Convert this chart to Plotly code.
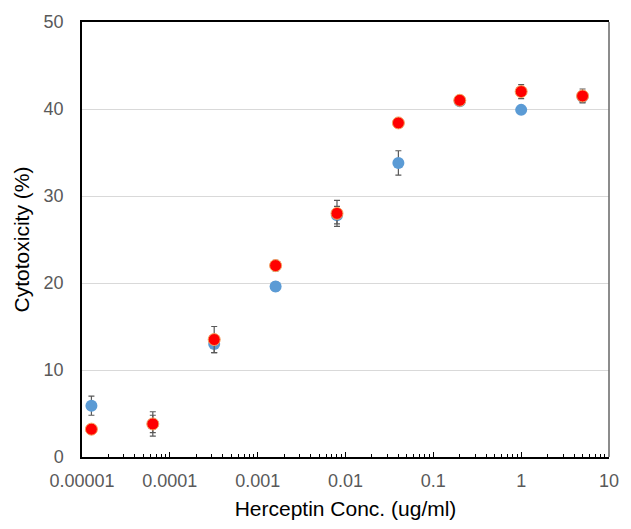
import plotly.graph_objects as go

conc = [0.0000128, 0.000064, 0.00032, 0.0016, 0.008, 0.04, 0.2, 1, 5]
blue_vals = [5.9, 3.8, 13.0, 19.6, 27.8, 33.8, 40.9, 39.9, 41.4]
blue_err = [1.1, 1.0, 1.0, 0.5, 1.0, 1.4, 0.3, 0.4, 0.6]
red_vals = [3.2, 3.8, 13.5, 22.0, 28.0, 38.4, 41.0, 42.0, 41.5]
red_err = [0.2, 1.4, 1.5, 0.6, 1.5, 0.3, 0.3, 0.8, 0.8]
tick_vals = [0.00001, 0.0001, 0.001, 0.01, 0.1, 1, 10]
tick_text = ["0.00001", "0.0001", "0.001", "0.01", "0.1", "1", "10"]

fig = go.Figure()
fig.add_trace(go.Scatter(
    x=conc, y=blue_vals, mode="markers", name="Series 1",
    marker=dict(size=12, color="#5B9BD5", line=dict(width=0)),
    error_y=dict(type="data", array=blue_err, color="#595959", thickness=1.2, width=3),
))
fig.add_trace(go.Scatter(
    x=conc, y=red_vals, mode="markers", name="Series 2",
    marker=dict(size=12, color="#FF0000", line=dict(width=1, color="#F4A460")),
    error_y=dict(type="data", array=red_err, color="#595959", thickness=1.2, width=3),
))

fig.update_layout(
    width=631, height=529,
    margin=dict(l=82, r=12, t=19, b=70),
    paper_bgcolor="white", plot_bgcolor="white",
    showlegend=False,
    font=dict(family="Liberation Sans, Arial, sans-serif", color="#595959", size=18),
    xaxis=dict(
        type="log", range=[-5, 1],
        tickvals=tick_vals, ticktext=tick_text,
        ticks="inside", ticklen=5, tickcolor="black", tickwidth=1,
        minor=dict(ticks="inside", ticklen=3, tickcolor="black", dtick="D1", showgrid=False),
        showline=True, linecolor="black", linewidth=1.5, mirror=True,
        showgrid=False, zeroline=False,
        ticklabelstandoff=7,
        tickfont=dict(size=18, color="#595959"),
        title=dict(text="Herceptin Conc. (ug/ml)", font=dict(size=21, color="black"), standoff=11),
    ),
    yaxis=dict(
        range=[0, 50], dtick=10,
        showline=True, linecolor="black", linewidth=1.5,
        showgrid=True, gridcolor="#D9D9D9", gridwidth=1.2,
        zeroline=False, ticks="",
        ticklabelstandoff=13,
        tickfont=dict(size=18, color="#595959"),
        title=dict(text="Cytotoxicity (%)", font=dict(size=21, color="black"), standoff=8),
    ),
    shapes=[dict(type="line", xref="paper", yref="paper", x0=1, x1=1, y0=0, y1=1,
                 line=dict(color="#666666", width=1.5), layer="above")],
)

fig.write_html("out.html", config={"displayModeBar": False},
               post_script="document.body.style.margin='0';")
